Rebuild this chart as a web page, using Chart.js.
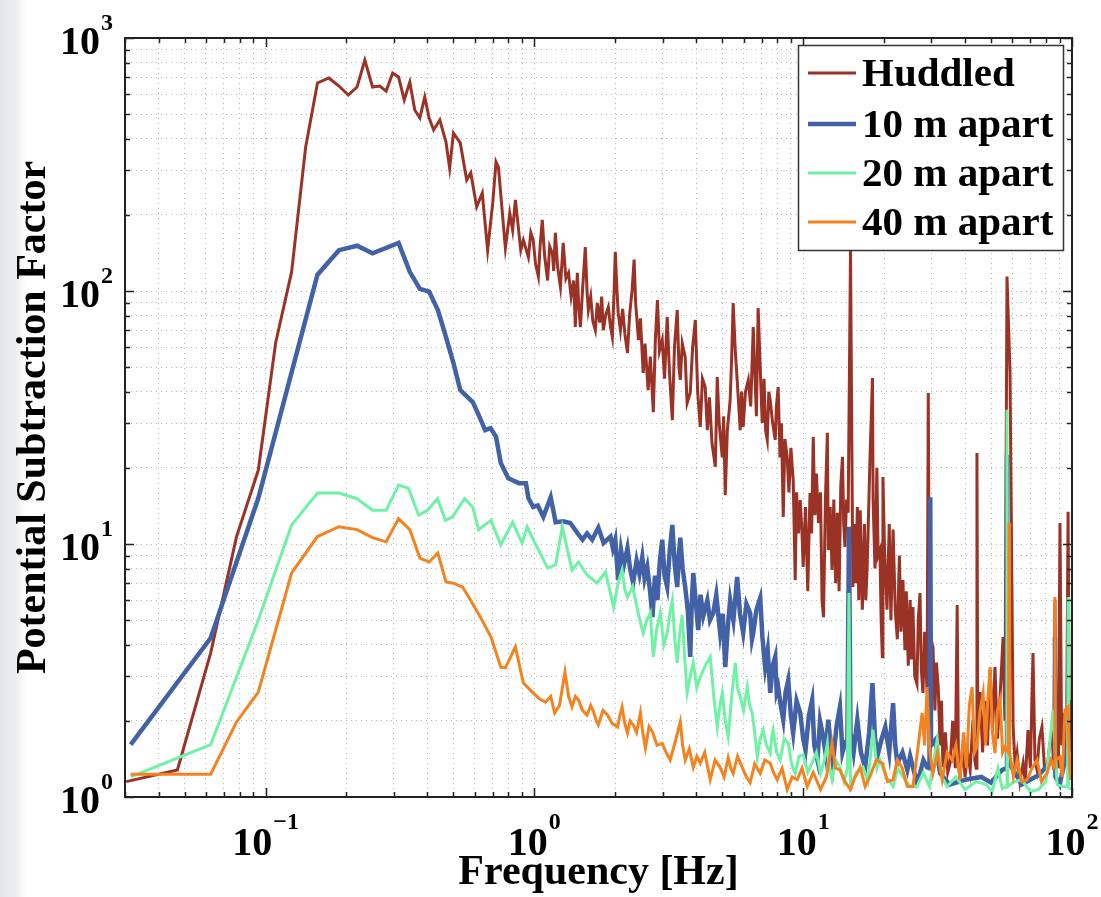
<!DOCTYPE html>
<html>
<head>
<meta charset="utf-8">
<script src="https://cdn.jsdelivr.net/npm/chart.js@4/dist/chart.umd.min.js"></script>
<style>
  html, body { margin: 0; padding: 0; }
  body {
    width: 1101px; height: 897px; overflow: hidden;
    background: linear-gradient(90deg, #e3e5ea 0px, #eceef1 16px, #ffffff 26px);
  }
  canvas { display: block; }
</style>
</head>
<body>
<canvas id="chart" width="1101" height="897"></canvas>
<script>
// [frequency Hz, subtraction factor]
const huddled = [
  [0.0303,1.15],[0.047,1.28],[0.0625,3.71],[0.078,10.7],[0.094,19.6],[0.109,62.3],[0.125,119],[0.141,371],
  [0.156,664],[0.172,695],[0.1875,646],[0.203,595],[0.219,640],[0.234,818],[0.25,640],[0.266,646],[0.281,617],
  [0.297,727],[0.3125,701],[0.328,569],[0.344,670],[0.359,519],[0.375,483],[0.391,585],[0.406,483],[0.422,433],
  [0.445,474],[0.469,388],[0.484,306],[0.5,421],[0.53,385],[0.56,275],[0.58,293],[0.61,215],[0.64,244],[0.67,145],
  [0.70,223],[0.72,324],[0.735,309],[0.78,148],[0.81,203],[0.83,174],[0.85,229],[0.89,145],[0.91,159],[0.95,136],
  [0.97,170],[0.99,159],[1.01,128],[1.035,114],[1.05,150],[1.07,191],[1.09,140],[1.12,110],[1.14,150],[1.167,141],
  [1.18,120],[1.197,170],[1.22,125],[1.25,104],[1.27,135],[1.28,155],[1.31,112],[1.34,118],[1.37,95],[1.40,110],
  [1.42,72.1],[1.445,118],[1.46,90],[1.483,72],[1.51,100],[1.547,149],[1.57,100],[1.588,84.1],[1.62,95],[1.65,76],
  [1.685,70.1],[1.714,89.7],[1.75,75],[1.78,95],[1.805,70],[1.84,80],[1.884,86.4],[1.92,72],[1.95,65.8],[1.98,100],
  [2.0,143],[2.03,100],[2.05,81.9],[2.09,70],[2.13,85],[2.17,68],[2.22,56.9],[2.26,80],[2.31,101],[2.35,133],
  [2.38,90],[2.44,64],[2.48,78],[2.54,47.4],[2.58,62],[2.65,40.6],[2.70,55],[2.77,33.2],[2.82,65],[2.87,92],
  [2.92,58],[2.99,64],[3.05,45],[3.12,78.9],[3.18,48],[3.26,30.9],[3.32,60],[3.40,84],[3.45,50],[3.49,44.5],
  [3.55,62],[3.64,54.8],[3.70,36],[3.80,39.5],[3.88,60],[3.97,76.8],[4.05,40],[4.14,29],[4.22,45],[4.32,41.7],
  [4.40,28.2],[4.48,38],[4.58,25],[4.71,20.2],[4.79,45.7],[4.87,30],[5.00,22],[5.06,32],[5.13,15.6],[5.22,28],
  [5.35,37],[5.42,55],[5.49,89.7],[5.58,60],[5.68,44.5],[5.76,35],[5.83,28.2],[5.90,40],[5.98,29],[6.1,40],
  [6.25,44.5],[6.38,35],[6.52,72],[6.62,45],[6.70,32],[6.80,85.7],[6.92,50],[7.04,30.1],[7.15,45],[7.25,28],
  [7.35,25.8],[7.45,40],[7.54,37],[7.70,30],[7.87,25.8],[7.95,35],[8.07,41.7],[8.2,22],[8.3,30],[8.43,12.8],
  [8.55,26],[8.72,22],[8.85,16],[9.0,24],[9.18,17.9],[9.34,7.2],[9.45,16],[9.6,11],[9.75,14.9],[9.9,11],
  [10.0,8.11],[10.2,14],[10.4,6.5],[10.6,15.9],[10.75,11],[10.9,26.5],[11.05,13],[11.2,19],[11.4,12.1],[11.6,16],
  [11.75,6],[11.9,5.14],[12.1,15],[12.3,27.5],[12.4,9.46],[12.6,14],[12.8,7.89],[13.0,15],[13.2,7],[13.4,13.3],
  [13.6,6.5],[13.8,17],[14.0,22.1],[14.15,12],[14.3,9.73],[14.5,15],[14.7,13.3],[15.0,145],[15.3,6.76],[15.5,12],
  [15.7,7],[15.9,14],[16.1,6],[16.3,13.6],[16.6,5.5],[16.9,12],[17.1,6],[17.3,8.11],[17.5,13],[17.7,20.9],
  [18.1,45.3],[18.2,14.9],[18.5,8],[18.8,20.0],[19.0,9],[19.3,9.46],[19.5,5],[19.7,3.58],[19.8,18.4],[20.1,9],
  [20.5,5.5],[20.9,12],[21.2,5],[21.6,11.4],[22.0,5.5],[22.4,4.2],[22.8,9],[23.1,4.5],[23.5,7.2],[23.9,3.8],
  [24.2,6.5],[24.6,3.3],[25.0,6],[25.3,3.5],[25.6,5.64],[26.0,3.0],[26.5,2.8],[26.8,5],[27.2,6.40],[27.5,3.2],
  [27.9,2.58],[28.3,4.5],[28.9,2.6],[29.2,39.5],[29.5,3.0],[29.9,4.2],[30.4,3.92],[30.9,2.2],[31.3,3.4],[31.8,2.72],
  [32.3,1.6],[32.7,2.4],[33.1,1.31],[33.8,1.8],[34.5,1.25],[35.2,1.36],[36.0,2.0],[36.8,1.3],[37.4,5.74],[37.8,1.4],
  [38.3,1.17],[39.2,1.6],[40.0,1.2],[40.9,1.5],[41.8,1.28],[42.8,2.0],[43.5,1.4],[44.0,1.3],[44.3,22.9],[44.6,2.02],
  [45.5,2.6],[46.5,1.5],[47.4,2.4],[48.5,1.6],[49.6,3.18],[50.6,1.8],[51.7,3.26],[52.8,1.7],[54.0,2.49],[55.4,4.29],
  [56.3,2.0],[57.3,114],[58.8,47.8],[60.4,1.89],[61.5,1.3],[62.5,1.49],[64.0,1.15],[65.8,1.36],[67.0,1.15],
  [68.6,1.84],[70.0,1.3],[71.6,3.71],[72.8,1.4],[74.1,1.28],[75.6,1.7],[77.3,1.89],[79.0,1.3],[80.7,1.28],
  [82.5,1.6],[84.3,1.79],[85.5,1.3],[86.4,6.0],[87.5,1.5],[89.0,1.3],[90.2,12.1],[91.5,1.6],[92.6,2.15],
  [94.0,1.4],[95.5,1.8],[96.7,13.4],[97.8,1.5],[99.1,2.42]
];
const apart10 = [
  [0.0315,1.61],[0.0625,4.25],[0.094,15.2],[0.156,116],[0.1875,145],[0.219,151],[0.25,141],[0.3125,155],
  [0.344,119],[0.375,102],[0.406,99.5],[0.4375,84.1],[0.469,65.8],[0.5,51.9],[0.53,40.6],[0.59,36.4],[0.625,31.8],
  [0.656,28.2],[0.6875,28.7],[0.72,26.5],[0.75,20.9],[0.8,18.2],[0.875,17.4],[0.93,17.4],[0.95,15.2],[0.99,14.0],
  [1.03,14.2],[1.08,12.8],[1.15,15.3],[1.2,12.2],[1.28,12.3],[1.36,12.1],[1.45,11.0],[1.51,10.4],[1.57,11.0],
  [1.64,10.4],[1.73,11.6],[1.81,10.1],[1.92,10.7],[1.96,9.6],[2.0,10.4],[2.05,7.2],[2.1,9.5],[2.15,8.2],
  [2.22,9.64],[2.27,8.0],[2.33,7.01],[2.4,8.6],[2.46,7.6],[2.52,8.88],[2.57,7.3],[2.63,8.11],[2.69,6.6],
  [2.75,5.14],[2.81,7.5],[2.87,6.0],[2.93,8.6],[2.99,10.4],[3.05,7.5],[3.12,6.76],[3.19,9.5],[3.26,11.9],
  [3.33,8.2],[3.40,6.76],[3.45,9.2],[3.49,10.6],[3.56,8.0],[3.64,6.76],[3.72,5.5],[3.80,3.58],[3.85,5.8],
  [3.90,7.68],[3.98,6.0],[4.07,4.57],[4.15,6.3],[4.25,5.2],[4.40,6.0],[4.50,5.0],[4.63,5.34],[4.75,6.3],
  [4.91,4.45],[5.02,5.3],[5.13,3.26],[5.25,4.8],[5.35,6.0],[5.50,5.0],[5.68,7.41],[5.82,5.3],[5.98,4.45],
  [6.15,5.8],[6.35,5.34],[6.45,4.2],[6.52,4.45],[6.7,5.5],[6.92,6.12],[7.05,4.3],[7.22,3.26],[7.38,3.8],
  [7.54,2.58],[7.7,3.3],[7.87,3.58],[7.97,2.6],[8.07,2.72],[8.25,2.3],[8.43,2.02],[8.6,2.6],[8.80,2.90],
  [9.0,2.1],[9.18,1.79],[9.45,2.4],[9.75,2.15],[10.0,1.7],[10.2,1.53],[10.5,2.1],[10.8,2.42],[11.0,1.6],
  [11.3,1.40],[11.55,2.0],[11.8,1.79],[12.1,1.5],[12.4,2.02],[12.65,1.6],[12.9,1.36],[13.3,1.9],[13.7,2.27],
  [14.0,1.5],[14.3,1.63],[14.6,1.6],[14.8,11.7],[15.0,1.8],[15.4,1.5],[15.9,2.02],[16.4,1.5],[17.0,1.31],
  [17.6,1.8],[18.1,2.82],[18.5,1.7],[19.0,1.49],[19.6,1.7],[20.2,1.89],[20.9,1.5],[21.6,2.35],[22.0,1.6],
  [22.4,1.36],[23.4,1.5],[24.4,1.28],[25.0,1.45],[25.6,1.31],[26.4,1.15],[27.2,1.24],[28.0,1.4],[28.9,1.31],
  [29.5,1.3],[29.7,15.3],[29.9,1.6],[31.0,1.68],[32.3,1.24],[35,1.12],[40,1.17],[46,1.2],[50,1.14],[55,1.28],
  [57.0,1.3],[57.3,22.5],[57.6,1.4],[65,1.12],[75,1.22],[85,1.40],[86.0,1.3],[86.4,4.29],[86.8,1.2],[90,1.12],
  [96,1.53],[99,1.17]
];
const apart20 = [
  [0.0315,1.20],[0.0625,1.61],[0.078,2.98],[0.094,5.01],[0.125,11.9],[0.156,15.9],[0.1875,15.9],[0.219,15.1],
  [0.25,13.6],[0.281,13.6],[0.3125,17.1],[0.34,16.6],[0.371,13.0],[0.40,13.6],[0.436,15.1],[0.467,12.4],
  [0.496,12.8],[0.55,15.1],[0.59,14.0],[0.62,11.4],[0.69,12.4],[0.75,9.91],[0.83,12.2],[0.90,10.1],[0.94,11.7],
  [0.99,10.4],[1.12,8.04],[1.20,8.26],[1.27,11.7],[1.38,7.89],[1.46,8.49],[1.57,7.54],[1.71,7.01],[1.84,7.75],
  [1.97,5.64],[2.05,7.0],[2.12,7.89],[2.17,6.6],[2.22,6.17],[2.32,6.8],[2.42,5.48],[2.48,4.9],[2.54,4.45],
  [2.62,5.0],[2.70,5.34],[2.77,3.58],[2.85,4.6],[2.94,5.34],[3.03,4.0],[3.12,4.45],[3.19,5.3],[3.26,6.0],
  [3.33,4.2],[3.40,3.39],[3.47,4.4],[3.55,5.24],[3.62,3.6],[3.70,2.58],[3.80,3.0],[3.90,3.39],[4.02,2.7],
  [4.14,2.98],[4.32,3.3],[4.51,3.58],[4.65,2.5],[4.79,1.89],[4.90,2.3],[5.00,2.58],[5.13,2.0],[5.26,1.73],
  [5.42,2.5],[5.59,3.39],[5.70,2.7],[5.83,2.49],[6.0,2.2],[6.19,2.72],[6.32,2.3],[6.46,2.15],[6.6,1.8],
  [6.75,1.44],[6.92,1.7],[7.10,1.84],[7.3,1.6],[7.54,1.49],[7.63,1.7],[7.73,1.84],[7.97,1.5],[8.21,1.40],
  [8.5,1.7],[8.80,1.63],[9.05,1.35],[9.34,1.24],[9.65,1.45],[10.0,1.47],[10.4,1.25],[10.9,1.40],[11.2,1.5],
  [11.6,1.24],[12.0,1.4],[12.3,1.63],[12.5,1.3],[12.8,1.17],[13.2,1.4],[13.7,1.31],[14.2,1.15],[14.6,1.3],
  [14.8,6.4],[15.0,1.1],[15.8,1.25],[16.7,1.31],[17.4,1.15],[18.2,1.84],[18.8,1.3],[19.3,1.40],[20.4,1.2],
  [21.6,1.10],[22.5,1.3],[23.5,1.20],[25,1.1],[26.5,1.10],[28,1.25],[29.5,1.1],[31.5,1.68],[32.8,1.2],
  [34.3,1.10],[37,1.2],[40,1.07],[44,1.15],[48,1.12],[50.5,1.05],[53,1.3],[55,1.08],[57.0,1.1],[57.3,33.9],
  [57.6,1.1],[61,1.15],[65,1.17],[70,1.05],[75,1.07],[80,1.15],[85,2.21],[88,1.12],[92,1.1],[96.3,1.1],
  [96.7,6.17],[97.1,1.1],[99,1.07]
];
const apart40 = [
  [0.0315,1.23],[0.0625,1.23],[0.078,1.98],[0.094,2.60],[0.125,7.68],[0.156,10.7],[0.1875,11.7],[0.219,11.4],
  [0.25,10.6],[0.281,10.2],[0.3125,12.6],[0.344,11.4],[0.375,8.8],[0.406,8.49],[0.4375,9.21],[0.469,7.08],
  [0.5,7.0],[0.54,6.76],[0.57,6.17],[0.63,5.14],[0.69,4.29],[0.75,3.26],[0.78,3.24],[0.85,3.92],[0.91,2.82],
  [0.99,2.58],[1.04,2.45],[1.10,2.37],[1.15,2.5],[1.19,2.15],[1.24,2.3],[1.30,3.12],[1.34,2.5],[1.38,2.27],
  [1.42,2.5],[1.46,2.42],[1.51,2.2],[1.57,2.11],[1.62,2.3],[1.66,2.17],[1.70,2.0],[1.73,1.93],[1.80,2.2],
  [1.87,2.11],[1.95,1.95],[2.04,1.89],[2.08,2.1],[2.12,2.27],[2.17,1.95],[2.22,1.79],[2.27,2.0],[2.33,1.93],
  [2.40,1.8],[2.48,2.15],[2.53,1.8],[2.59,1.56],[2.67,1.9],[2.75,1.81],[2.86,1.6],[2.99,1.63],[3.09,1.5],
  [3.20,1.40],[3.34,1.65],[3.49,1.98],[3.56,1.6],[3.64,1.40],[3.77,1.55],[3.90,1.31],[4.02,1.45],[4.14,1.36],
  [4.3,1.5],[4.51,1.17],[4.7,1.4],[4.91,1.31],[5.08,1.2],[5.26,1.43],[5.38,1.3],[5.49,1.24],[5.7,1.45],
  [5.93,1.31],[6.15,1.2],[6.35,1.14],[6.6,1.35],[6.92,1.24],[7.2,1.4],[7.54,1.36],[7.75,1.25],[8.00,1.17],
  [8.35,1.3],[8.72,1.07],[9.1,1.2],[9.50,1.17],[9.9,1.3],[10.35,1.10],[10.9,1.25],[11.6,1.07],[12.2,1.2],
  [12.8,1.63],[13.2,1.3],[13.7,1.28],[14.3,1.15],[15.0,1.07],[15.6,1.2],[16.3,1.31],[17.0,1.1],[17.7,1.20],
  [18.7,1.4],[19.7,1.36],[20.6,1.15],[21.6,1.17],[22.4,1.4],[23.3,1.31],[24.4,1.1],[25.6,1.10],[26.6,1.5],
  [27.7,2.15],[28.3,1.6],[28.9,2.72],[29.6,1.5],[30.4,1.24],[31.6,1.5],[32.9,1.17],[34.3,1.5],[35.8,1.40],
  [37.0,1.6],[38.3,1.17],[39.5,1.8],[40.5,1.3],[41.5,2.3],[42.5,2.72],[43.4,1.5],[44.3,1.58],[45.5,2.2],
  [46.7,2.58],[47.7,1.6],[48.6,2.4],[49.6,3.26],[50.6,1.8],[51.7,1.49],[52.8,2.2],[54.0,2.42],[55.2,1.5],
  [56.4,1.58],[58.0,1.5],[58.3,12.1],[58.6,1.5],[60.5,1.2],[62.5,1.40],[65,1.15],[68.0,1.17],[71,1.3],
  [74.1,1.40],[77,1.15],[80.7,1.24],[83.5,1.4],[86.0,1.3],[86.4,6.17],[86.8,1.4],[90.2,1.44],[92,1.2],
  [94.2,2.21],[96.7,2.27],[98,1.3],[99,1.17]
];

const seriesNames = ['Huddled', '10 m apart', '20 m apart', '40 m apart'];
const xTicks = [0.03,0.04,0.05,0.06,0.07,0.08,0.09,0.1,0.2,0.3,0.4,0.5,0.6,0.7,0.8,0.9,
  1,2,3,4,5,6,7,8,9,10,20,30,40,50,60,70,80,90,100];
const yTicks = [1,2,3,4,5,6,7,8,9,10,20,30,40,50,60,70,80,90,100,200,300,400,500,600,700,800,900,1000];
const xDecades = [0.1, 1, 10, 100];
const xExponents = ['\u22121', '0', '1', '2'];
const yDecades = [1, 10, 100, 1000];
const yExponents = ['0', '1', '2', '3'];

const colors = ['#9b3226', '#4261a6', '#6ff2a6', '#f4821f'];
const widths = [3, 4.5, 3, 3];
const serif = '"Liberation Serif", "Times New Roman", serif';

const isDecade = v => Math.abs(Math.log10(v) - Math.round(Math.log10(v))) < 1e-9;

const decorations = {
  id: 'decorations',
  afterDatasetsDraw(chart) {
    const {ctx, chartArea: a, scales: {x, y}} = chart;
    ctx.save();
    ctx.strokeStyle = '#222';
    ctx.lineWidth = 1.5;
    xTicks.forEach(v => {
      const px = Math.round(x.getPixelForValue(v)) + 0.5;
      const len = isDecade(v) ? 9 : 5;
      ctx.beginPath();
      ctx.moveTo(px, a.bottom); ctx.lineTo(px, a.bottom - len);
      ctx.moveTo(px, a.top); ctx.lineTo(px, a.top + len);
      ctx.stroke();
    });
    yTicks.forEach(v => {
      const py = Math.round(y.getPixelForValue(v)) + 0.5;
      const len = isDecade(v) ? 9 : 5;
      ctx.beginPath();
      ctx.moveTo(a.left, py); ctx.lineTo(a.left + len, py);
      ctx.moveTo(a.right, py); ctx.lineTo(a.right - len, py);
      ctx.stroke();
    });
    ctx.lineWidth = 2;
    ctx.strokeRect(a.left, a.top, a.right - a.left, a.bottom - a.top);

    // legend
    ctx.fillStyle = '#fff';
    ctx.fillRect(798, 45, 265, 205);
    ctx.strokeStyle = '#333';
    ctx.lineWidth = 1.5;
    ctx.strokeRect(798.5, 45.5, 265, 205);
    const rows = [73, 124, 173, 222];
    ctx.font = 'bold 41px ' + serif;
    ctx.textAlign = 'left';
    ctx.textBaseline = 'alphabetic';
    chart.data.datasets.forEach((ds, i) => {
      ctx.strokeStyle = ds.borderColor;
      ctx.lineWidth = ds.borderWidth;
      ctx.beginPath();
      ctx.moveTo(808, rows[i]); ctx.lineTo(856, rows[i]);
      ctx.stroke();
      ctx.fillStyle = '#000';
      ctx.fillText(ds.label, 862, rows[i] + 13);
    });
    ctx.restore();
  },
  afterDraw(chart) {
    const {ctx, scales: {x, y}} = chart;
    ctx.save();
    ctx.fillStyle = '#000';
    ctx.textBaseline = 'alphabetic';
    yDecades.forEach((v, i) => {
      const py = y.getPixelForValue(v);
      ctx.font = 'bold 40px ' + serif;
      ctx.textAlign = 'right';
      ctx.fillText('10', 100, py + 16);
      ctx.font = 'bold 24px ' + serif;
      ctx.textAlign = 'left';
      ctx.fillText(yExponents[i], 101, py - 8);
    });
    xDecades.forEach((v, i) => {
      const px = x.getPixelForValue(v);
      ctx.font = 'bold 40px ' + serif;
      const w1 = ctx.measureText('10').width;
      ctx.font = 'bold 24px ' + serif;
      const w2 = ctx.measureText(xExponents[i]).width;
      const start = px - (w1 + w2 + 1) / 2;
      ctx.textAlign = 'left';
      ctx.font = 'bold 40px ' + serif;
      ctx.fillText('10', start, 855);
      ctx.font = 'bold 24px ' + serif;
      ctx.fillText(xExponents[i], start + w1 + 1, 829);
    });
    ctx.restore();
  }
};

const series = [huddled, apart10, apart20, apart40];

new Chart(document.getElementById('chart').getContext('2d'), {
  type: 'line',
  data: {
    datasets: series.map((s, i) => ({
      label: seriesNames[i],
      data: s.map(p => ({x: p[0], y: p[1]})),
      borderColor: colors[i],
      borderWidth: widths[i],
      pointRadius: 0,
      fill: false,
      tension: 0,
      order: 4 - i
    }))
  },
  options: {
    responsive: false,
    devicePixelRatio: 1,
    animation: false,
    layout: {padding: {top: 38, right: 29, left: 0, bottom: 0}},
    plugins: {legend: {display: false}, tooltip: {enabled: false}},
    scales: {
      x: {
        type: 'logarithmic',
        min: 0.03,
        max: 100,
        afterBuildTicks: scale => { scale.ticks = xTicks.map(v => ({value: v})); },
        afterFit: scale => { scale.height = 100; },
        ticks: {display: false},
        grid: {color: '#b8b8b8', lineWidth: 1, drawTicks: false},
        border: {display: true, color: '#222', width: 2, dash: [1, 4]},
        title: {
          display: true,
          text: 'Frequency [Hz]',
          color: '#000',
          font: {family: serif, size: 42, weight: 'bold', lineHeight: 1},
          padding: {top: 0, bottom: 3}
        }
      },
      y: {
        type: 'logarithmic',
        min: 1,
        max: 1000,
        afterBuildTicks: scale => { scale.ticks = yTicks.map(v => ({value: v})); },
        afterFit: scale => { scale.width = 125; },
        ticks: {display: false},
        grid: {color: '#b8b8b8', lineWidth: 1, drawTicks: false},
        border: {display: true, color: '#222', width: 2, dash: [1, 4]},
        title: {
          display: true,
          text: 'Potential Subtraction Factor',
          color: '#000',
          font: {family: serif, size: 42, weight: 'bold', lineHeight: 1},
          padding: {top: 13, bottom: 0}
        }
      }
    }
  },
  plugins: [decorations]
});
</script>
</body>
</html>
